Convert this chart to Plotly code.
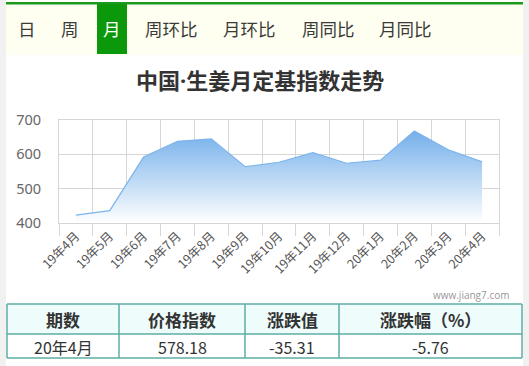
import plotly.graph_objects as go

W, H = 529, 366

months = ["19年4月", "19年5月", "19年6月", "19年7月", "19年8月", "19年9月", "19年10月",
          "19年11月", "19年12月", "20年1月", "20年2月", "20年3月", "20年4月"]
index_values = [423, 436, 592, 638, 645, 564, 577, 605, 574, 583, 668, 613.49, 578.18]
y_ticks = [400, 500, 600, 700]

tabs = ["日", "周", "月", "周环比", "月环比", "周同比", "月同比"]
tab_x = [27, 70, 112, 171, 249, 328, 405]
active_tab = "月"

table_header = ["期数", "价格指数", "涨跌值", "涨跌幅（%）"]
table_row = ["20年4月", "578.18", "-35.31", "-5.76"]
col_edges = [7, 119, 245, 339, 522]

title = "中国·生姜月定基指数走势"
watermark = "www.jiang7.com"

FONT = "Noto Sans CJK SC, Microsoft YaHei, sans-serif"
FONT_MIX = "Noto Sans, Noto Sans CJK SC, sans-serif"


def px(x):
    return x / W


def py(y):
    return 1 - y / H


def rect(x0, y0, x1, y1, fill, line=None, lw=0):
    return dict(type="rect", xref="paper", yref="paper",
                x0=px(x0), x1=px(x1), y0=py(y1), y1=py(y0),
                fillcolor=fill, line=dict(color=line or fill, width=lw), layer="below")


def hline(x0, x1, y, color, lw=1):
    return dict(type="line", xref="paper", yref="paper", x0=px(x0), x1=px(x1),
                y0=py(y), y1=py(y), line=dict(color=color, width=lw), layer="above")


def vline(x, y0, y1, color, lw=1):
    return dict(type="line", xref="paper", yref="paper", x0=px(x), x1=px(x),
                y0=py(y0), y1=py(y1), line=dict(color=color, width=lw), layer="above")


fig = go.Figure()

ymin = y_ticks[0]
fig.add_trace(go.Scatter(x=months, y=[ymin] * len(months), mode="lines",
                         line=dict(width=0), hoverinfo="skip", showlegend=False))
fig.add_trace(go.Scatter(
    x=months, y=index_values, mode="lines", fill="tonexty",
    line=dict(color="#7cb5ec", width=1.2),
    fillgradient=dict(type="vertical",
                      colorscale=[[0, "rgba(255,255,255,1)"], [1, "rgba(116,175,234,1)"]]),
    showlegend=False))

shapes = []
# page background + panel
shapes.append(rect(0, 0, W, H, "#f1f1f1"))
shapes.append(rect(6, 0, 523, H, "#ffffff"))
# tab bar
shapes.append(rect(6, 4, 523, 55, "#fefff0"))
shapes.append(rect(6, 2, 523, 4.5, "#1d9a1d"))
shapes.append(rect(97, 4, 127, 54, "#0b990b"))

annotations = []
for t, x in zip(tabs, tab_x):
    annotations.append(dict(x=px(x), y=py(29), xref="paper", yref="paper", text=t,
                            showarrow=False, xanchor="center", yanchor="middle",
                            font=dict(family=FONT, size=17.5,
                                      color="#ffffff" if t == active_tab else "#3a3a3a")))

annotations.append(dict(x=px(260), y=py(80), xref="paper", yref="paper",
                        text="<b>" + title + "</b>", showarrow=False,
                        xanchor="center", yanchor="middle",
                        font=dict(family=FONT_MIX, size=22, color="#333333")))
annotations.append(dict(x=px(511), y=py(295), xref="paper", yref="paper",
                        text=watermark, showarrow=False, xanchor="right", yanchor="middle",
                        font=dict(family="Open Sans, sans-serif", size=10, color="#999999")))

# table
border = "#5caea4"
shapes.append(rect(col_edges[0], 304, col_edges[-1], 334, "#eefcfc"))
shapes.append(hline(col_edges[0], col_edges[-1], 304, border, 1.5))
shapes.append(hline(col_edges[0], col_edges[-1], 334, border, 1.5))
shapes.append(hline(col_edges[0], col_edges[-1], 358, border, 1.5))
for x in col_edges:
    shapes.append(vline(x, 304, 358, border, 1.5))
for i in range(len(table_header)):
    cx = (col_edges[i] + col_edges[i + 1]) / 2
    annotations.append(dict(x=px(cx), y=py(319), xref="paper", yref="paper",
                            text="<b>" + table_header[i] + "</b>", showarrow=False,
                            xanchor="center", yanchor="middle",
                            font=dict(family=FONT, size=17, color="#333333")))
    annotations.append(dict(x=px(cx), y=py(346.5), xref="paper", yref="paper",
                            text=table_row[i], showarrow=False,
                            xanchor="center", yanchor="middle",
                            font=dict(family=FONT, size=16, color="#333333")))

grid = "#d6d6d6"
fig.update_layout(
    width=W, height=H, margin=dict(l=0, r=0, t=0, b=0, pad=0, autoexpand=False),
    paper_bgcolor="#ffffff", plot_bgcolor="rgba(0,0,0,0)",
    shapes=shapes, annotations=annotations,
    xaxis=dict(domain=[px(59), px(499)], type="category", range=[-0.5, len(months) - 0.5],
               tickson="boundaries", showgrid=True, gridcolor=grid, gridwidth=1,
               ticks="outside", ticklen=12, tickcolor=grid, tickwidth=1,
               tickangle=-45, tickfont=dict(family=FONT, size=12.5, color="#555555"),
               showline=True, linecolor=grid, mirror=True, zeroline=False,
               fixedrange=True, automargin=False),
    yaxis=dict(domain=[py(223), py(120)], range=[y_ticks[0], y_ticks[-1]],
               tickvals=y_ticks, showgrid=True, gridcolor=grid, gridwidth=1,
               ticks="", ticklabelstandoff=14,
               tickfont=dict(family=FONT_MIX, size=14.5, color="#666666"),
               showline=True, linecolor=grid, mirror=True, zeroline=False,
               fixedrange=True, automargin=False),
)

fig.write_html("out.html")
